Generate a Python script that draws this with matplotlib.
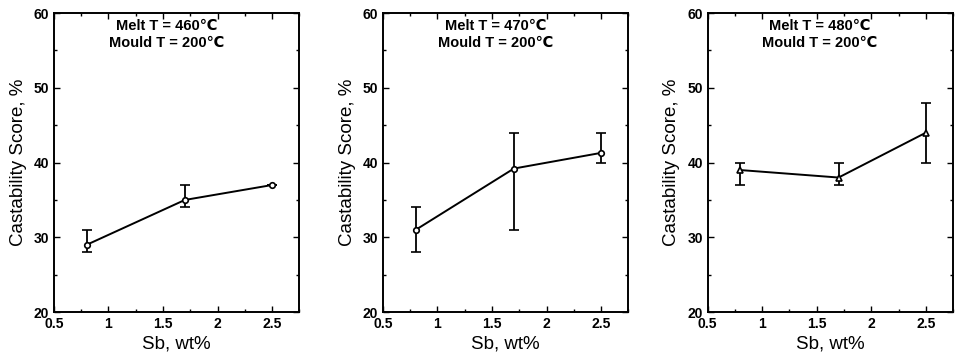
import numpy as np
import matplotlib.pyplot as plt
from matplotlib.ticker import MultipleLocator

plt.rcParams['font.family'] = ['Liberation Sans', 'DejaVu Sans']

sb = [0.8, 1.7, 2.5]
melt_temps = [460, 470, 480]
scores = [[29, 35, 37], [31, 39.2, 41.3], [39, 38, 44]]
err_low = [[28, 34, 37], [28, 31, 40], [37, 37, 40]]
err_high = [[31, 37, 37], [34, 44, 44], [40, 40, 48]]
markers = ['o', 'o', '^']

fig = plt.figure(figsize=(9.55, 3.55), dpi=100)
lefts = [0.0565, 0.401, 0.741]
for i in range(3):
    ax = fig.add_axes([lefts[i], 0.121, 0.257, 0.842])
    y = np.array(scores[i])
    lo = y - np.array(err_low[i])
    hi = np.array(err_high[i]) - y
    ax.errorbar(sb, y, yerr=[lo, hi], color='black', lw=1.4, elinewidth=1.3,
                capsize=3.5, capthick=1.3, marker=markers[i], ms=4,
                mfc='white', mec='black', mew=1.2)
    ax.set_xlim(0.5, 2.75)
    ax.set_ylim(20, 60)
    ax.xaxis.set_minor_locator(MultipleLocator(0.25))
    ax.yaxis.set_minor_locator(MultipleLocator(5))
    ax.tick_params(which='both', direction='in', top=True, right=True, width=1)
    ax.tick_params(which='major', length=4, labelsize=10)
    ax.tick_params(which='minor', length=2)
    ax.set_xticks([0.5, 1, 1.5, 2, 2.5])
    ax.set_xticklabels(['0.5', '1', '1.5', '2', '2.5'], fontweight='bold')
    ax.set_yticks([20, 30, 40, 50, 60])
    ax.set_yticklabels(['20', '30', '40', '50', '60'], fontweight='bold')
    for s in ax.spines.values():
        s.set_linewidth(1.4)
    ax.set_xlabel('Sb, wt%', fontsize=13.5, labelpad=3)
    ax.set_ylabel('Castability Score, %', fontsize=13.5, labelpad=5)
    ax.text(1.53, 59.2, f'Melt T = {melt_temps[i]}\u2103\nMould T = 200\u2103',
            ha='center', va='top', fontsize=10.5, fontweight='bold',
            linespacing=1.3)

fig.savefig('out.png', dpi=100)
